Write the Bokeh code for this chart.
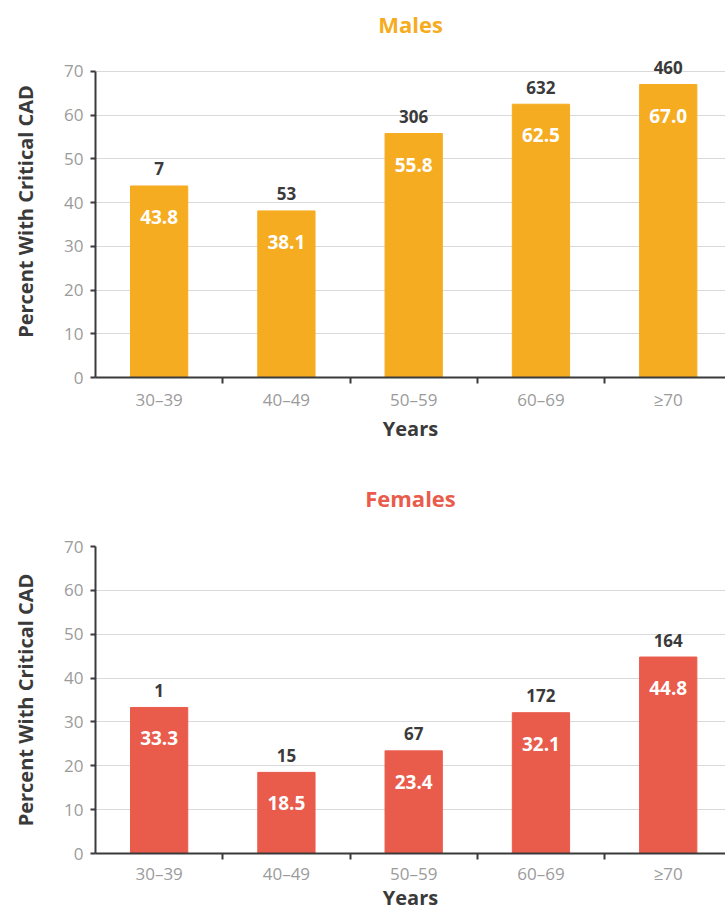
import numpy as np
from bokeh.plotting import figure
from bokeh.layouts import column
from bokeh.models import ColumnDataSource, LabelSet, Range1d, FixedTicker
from bokeh.core.properties import value
from bokeh.embed import file_html
from bokeh.resources import INLINE

categories = ["30–39", "40–49", "50–59", "60–69", "≥70"]
male_pct = [43.8, 38.1, 55.8, 62.5, 67.0]
male_n = [7, 53, 306, 632, 460]
female_pct = [33.3, 18.5, 23.4, 32.1, 44.8]
female_n = [1, 15, 67, 172, 164]
y_ticks = [0, 10, 20, 30, 40, 50, 60, 70]

FONT = "Open Sans"
DARK = "#3a3a3a"
GRAY = "#9b9b9b"


def make_panel(title, pct, counts, color, height, y_end, top, bottom, standoff,
               tick_standoff, label_standoff):
    xs = np.arange(len(categories)) + 0.5
    src = ColumnDataSource(dict(
        x=xs, top=pct,
        vlab=[f"{v:.1f}" for v in pct],
        nlab=[str(n) for n in counts],
    ))
    p = figure(width=725, height=height, output_backend="svg", toolbar_location=None,
               x_range=Range1d(0, 4.95), y_range=Range1d(0, y_end),
               min_border_left=95, min_border_right=0, min_border_top=top,
               min_border_bottom=bottom, title=title)
    p.title.text_color = color
    p.title.text_font = FONT
    p.title.text_font_size = "22px"
    p.title.text_font_style = "bold"
    p.title.align = "center"
    p.title.standoff = standoff
    p.outline_line_color = None

    p.vbar(x="x", top="top", width=0.45, bottom=0, color=color, source=src)

    p.add_layout(LabelSet(x="x", y="top", text="vlab", source=src, y_offset=-31,
                          text_align="center", text_baseline="middle",
                          text_color="white", text_font=value(FONT),
                          text_font_size="19px", text_font_style="bold"))
    p.add_layout(LabelSet(x="x", y="top", text="nlab", source=src, y_offset=17,
                          text_align="center", text_baseline="middle",
                          text_color=DARK, text_font=value(FONT),
                          text_font_size="17px", text_font_style="bold"))

    # y axis
    ya = p.yaxis[0]
    ya.ticker = FixedTicker(ticks=y_ticks, minor_ticks=[])
    ya.bounds = (y_ticks[0], y_ticks[-1])
    ya.axis_label = "Percent With Critical CAD"
    ya.axis_label_text_font = FONT
    ya.axis_label_text_font_size = "20px"
    ya.axis_label_text_font_style = "bold"
    ya.axis_label_text_color = DARK
    ya.axis_label_standoff = 22
    ya.major_label_text_font = FONT
    ya.major_label_text_font_size = "17px"
    ya.major_label_text_color = GRAY
    ya.major_label_standoff = 7
    ya.major_tick_out = 5
    ya.major_tick_in = 0
    ya.major_tick_line_color = DARK
    ya.major_tick_line_width = 2
    ya.axis_line_color = DARK
    ya.axis_line_width = 2

    # x axis: labels at category centres, tick marks at boundaries
    xa = p.xaxis[0]
    xa.ticker = FixedTicker(ticks=list(xs),
                            minor_ticks=[i + 1 for i in range(len(categories) - 1)])
    xa.major_label_overrides = {float(x): c for x, c in zip(xs, categories)}
    xa.major_tick_line_color = None
    xa.major_tick_out = 0
    xa.major_tick_in = 0
    xa.minor_tick_line_color = DARK
    xa.minor_tick_line_width = 2
    xa.minor_tick_out = 6
    xa.minor_tick_in = 0
    xa.major_label_standoff = tick_standoff
    xa.major_label_text_font = FONT
    xa.major_label_text_font_size = "17px"
    xa.major_label_text_color = GRAY
    xa.axis_label = "Years"
    xa.axis_label_text_font = FONT
    xa.axis_label_text_font_size = "20px"
    xa.axis_label_text_font_style = "bold"
    xa.axis_label_text_color = DARK
    xa.axis_label_standoff = label_standoff
    xa.axis_line_color = DARK
    xa.axis_line_width = 2

    p.xgrid.grid_line_color = None
    p.ygrid.ticker = FixedTicker(ticks=y_ticks)
    p.ygrid.grid_line_color = "#d9d9d9"
    p.ygrid.grid_line_width = 1
    return p


p1 = make_panel("Males", male_pct, male_n, "#F6AC21", 444, 75.93, 44, 67, 13, 4, 1)
p2 = make_panel("Females", female_pct, female_n, "#E95B4B", 469, 70, 102, 55, 67, 2, -4)

layout = column(p1, p2, spacing=0)
open("out.html", "w").write(file_html(layout, INLINE))
